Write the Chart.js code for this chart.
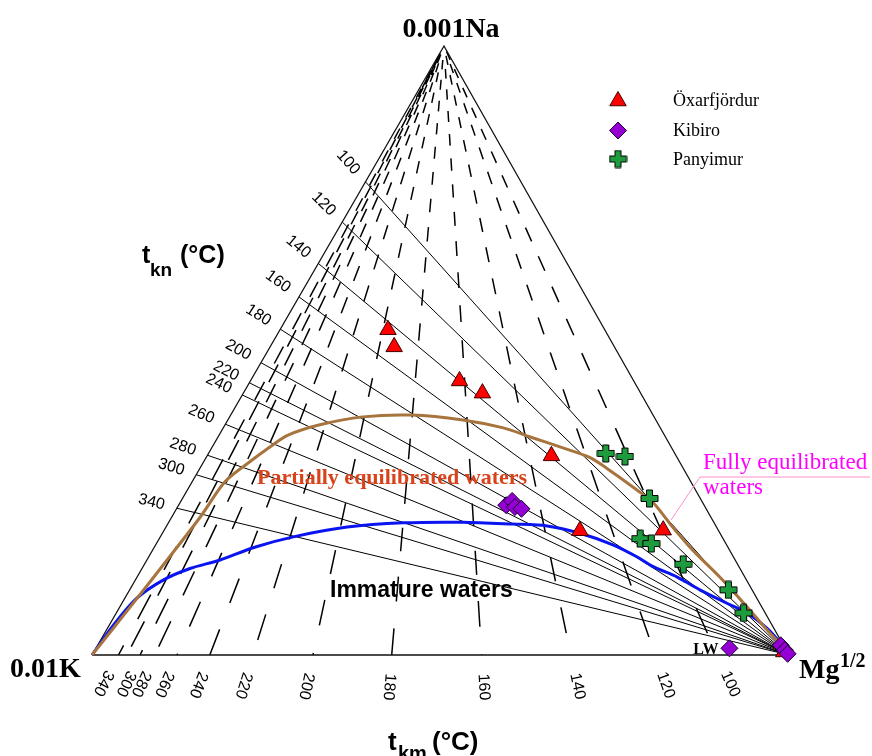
<!DOCTYPE html>
<html>
<head>
<meta charset="utf-8">
<script src="https://cdn.jsdelivr.net/npm/chart.js@4.4.0/dist/chart.umd.min.js"></script>
<style>
  html, body { margin: 0; padding: 0; background: #fff; }
  #wrap { width: 872px; height: 756px; }
</style>
</head>
<body>
<div id="wrap"><canvas id="giggenbach"></canvas></div>
<script>
'use strict';

// Compositions are % of (Na/1000, K/100, Mg^1/2); the K share is the rest

// Na-K geothermometer lines: % Na/1000 where each one meets the K-Na side
const tknTemps = ['100', '120', '140', '160', '180', '200', '220', '240', '260', '280', '300', '340'];
const tknNa = [77.7, 71.1, 64.3, 58.8, 53.5, 48.0, 44.7, 42.7, 37.9, 32.8, 29.6, 24.1];

// K-Mg geothermometer lines: % Mg^1/2 where each one meets the K-Mg side
const tkmTemps = ['100', '120', '140', '160', '180', '200', '220', '240', '260', '280', '300', '', '340'];
const tkmMg = [89.7, 80.8, 68.7, 55.9, 43.0, 31.7, 23.1, 16.9, 12.2, 9.0, 6.9, 5.0, 3.8];

// full equilibrium curve
const fullNa = [0, 7.9, 15.6, 22.7, 28.4, 31.4, 34.2, 36.1, 37.8, 39.1, 39.4, 38.6, 37.3, 35.8, 34.0, 32.4, 29.9, 27.1, 25.0, 21.0, 17.2, 12.8, 7.9, 4.1, 1.3, 0];
const fullMg = [0, 1.5, 2.9, 4.1, 4.7, 6.4, 8.3, 9.9, 13.6, 19.1, 26.0, 33.7, 40.2, 44.8, 50.4, 55.1, 59.7, 64.5, 67.9, 72.7, 77.5, 83.6, 90.0, 94.8, 98.5, 100];

// partial equilibrium / immature boundary
const partNa = [0, 4.9, 9.3, 12.3, 14.2, 15.6, 17.7, 19.4, 21.0, 21.7, 21.8, 21.5, 21.2, 20.0, 18.1, 16.1, 14.5, 12.8, 10.7, 8.5, 6.9, 4.4, 2.1, 0];
const partMg = [0, 0.6, 1.7, 4.0, 6.9, 10.5, 14.4, 19.1, 26.0, 33.7, 42.2, 49.5, 54.6, 59.9, 65.6, 70.1, 73.2, 77.5, 81.8, 86.8, 90.5, 94.6, 97.6, 100];

// samples
const oxNa = [53.4, 50.6, 45.0, 43.0, 32.7, 20.4, 20.5, 0.5];
const oxMg = [15.5, 17.8, 30.0, 34.3, 49.4, 59.7, 71.6, 99.0];
const kiNa = [24.6, 25.3, 24.3, 24.0, 1.1, 1.6, 0.8, 0.2];
const kiMg = [47.0, 47.5, 48.4, 49.5, 90.9, 98.0, 99.0, 99.7];
const kiLabels = ['', '', '', '', 'LW', '', '', ''];
const paNa = [33.1, 32.6, 25.7, 19.1, 18.3, 14.9, 10.7, 6.9];
const paMg = [57.0, 60.0, 67.0, 69.0, 71.0, 77.3, 85.9, 90.0];

const APEX = 0.505; // horizontal place of the Na corner between K and Mg

function tern(na, mg) {
    return { x: mg + APEX * na, y: na };
}
function zipTern(naArr, mgArr) {
    return naArr.map((na, i) => tern(na, mgArr[i]));
}

const SERIF = '"Liberation Serif", "Times New Roman", serif';
const SANS = '"Liberation Sans", Arial, sans-serif';
const GREEN = '#1E9B3C';
const PURPLE = '#9400D3';

// green plus marker with black outline
function makeCross(size, arm) {
    const c = document.createElement('canvas');
    c.width = size;
    c.height = size;
    const g = c.getContext('2d');
    const h = size / 2, a = arm / 2, e = h - 1;
    g.beginPath();
    g.moveTo(h - a, h - e); g.lineTo(h + a, h - e); g.lineTo(h + a, h - a); g.lineTo(h + e, h - a);
    g.lineTo(h + e, h + a); g.lineTo(h + a, h + a); g.lineTo(h + a, h + e); g.lineTo(h - a, h + e);
    g.lineTo(h - a, h + a); g.lineTo(h - e, h + a); g.lineTo(h - e, h - a); g.lineTo(h - a, h - a);
    g.closePath();
    g.fillStyle = GREEN;
    g.fill();
    g.lineWidth = 1;
    g.strokeStyle = '#000';
    g.stroke();
    return c;
}
const crossImg = makeCross(19, 6);

// dashes get longer away from the Na corner, as in the original
function dashLine(ctx, x0, y0, x1, y1, phase) {
    const len = Math.hypot(x1 - x0, y1 - y0);
    const ux = (x1 - x0) / len, uy = (y1 - y0) / len;
    let s = 6 + phase;
    while (s < len) {
        const dash = 9 + 0.03 * s;
        const gap = 10 + 0.032 * s;
        const e = Math.min(s + dash, len);
        ctx.moveTo(x0 + ux * s, y0 + uy * s);
        ctx.lineTo(x0 + ux * e, y0 + uy * e);
        s = e + gap;
    }
}

const ternaryDecor = {
    id: 'ternaryDecor',
    beforeDatasetsDraw(chart) {
        const { ctx, scales: { x, y } } = chart;
        const px = p => [x.getPixelForValue(p.x), y.getPixelForValue(p.y)];
        const [ax, ay] = px(tern(100, 0));
        ctx.save();
        ctx.strokeStyle = '#000';
        ctx.lineWidth = 1.5;
        ctx.beginPath();
        tkmMg.forEach((mg, i) => {
            const [bx, by] = px(tern(0, mg));
            dashLine(ctx, ax, ay, bx, by, (i * 13) % 22);
        });
        ctx.stroke();
        ctx.restore();
    },
    afterDraw(chart) {
        const { ctx, scales: { x, y } } = chart;
        const px = p => [x.getPixelForValue(p.x), y.getPixelForValue(p.y)];
        ctx.save();
        ctx.fillStyle = '#000';
        ctx.textAlign = 'center';
        ctx.textBaseline = 'middle';

        // tkn tick labels, along each line beyond the K-Na side
        ctx.font = '16px ' + SANS;
        const [mx, my] = px(tern(0, 100));
        tknNa.forEach((na, i) => {
            const [ex, ey] = px(tern(na, 0));
            const d = Math.hypot(ex - mx, ey - my);
            const ux = (ex - mx) / d, uy = (ey - my) / d;
            ctx.save();
            ctx.translate(ex + ux * 26, ey + uy * 26);
            ctx.rotate(Math.atan2(-uy, -ux));
            ctx.fillText(tknTemps[i], 0, 0);
            ctx.restore();
        });

        // tkm tick labels, below the K-Mg side
        const [ax, ay] = px(tern(100, 0));
        tkmMg.forEach((mg, i) => {
            if (!tkmTemps[i]) return;
            const [bx, by] = px(tern(0, mg));
            const d = Math.hypot(bx - ax, by - ay);
            const ux = (bx - ax) / d, uy = (by - ay) / d;
            ctx.save();
            ctx.translate(bx + ux * 32, by + uy * 32);
            ctx.rotate(Math.atan2(uy, ux));
            ctx.fillText(tkmTemps[i], 0, 0);
            ctx.restore();
        });

        // corner names
        ctx.textBaseline = 'alphabetic';
        ctx.font = 'bold 28px ' + SERIF;
        ctx.fillText('0.001Na', 451, 37);
        ctx.textAlign = 'left';
        ctx.fillText('0.01K', 10, 677);
        ctx.fillText('Mg', 799, 678);
        ctx.font = 'bold 20px ' + SERIF;
        ctx.fillText('1/2', 840, 667);

        // axis titles
        ctx.font = 'bold 25px ' + SANS;
        ctx.fillText('t', 142, 263);
        ctx.fillText('(°C)', 180, 263);
        ctx.font = 'bold 19px ' + SANS;
        ctx.fillText('kn', 150, 276);
        ctx.font = 'bold 26px ' + SANS;
        ctx.fillText('t', 388, 750);
        ctx.fillText('(°C)', 432, 750);
        ctx.font = 'bold 20px ' + SANS;
        ctx.fillText('km', 398, 760);

        // field names
        ctx.font = 'bold 22px ' + SERIF;
        ctx.fillStyle = '#D8431B';
        ctx.fillText('Partially equilibrated waters', 257, 484);
        ctx.font = 'bold 23px ' + SANS;
        ctx.fillStyle = '#000';
        ctx.fillText('Immature waters', 330, 597);

        ctx.strokeStyle = '#FF90C8';
        ctx.lineWidth = 1;
        ctx.beginPath();
        ctx.moveTo(671, 520);
        ctx.lineTo(700, 477);
        ctx.lineTo(870, 477);
        ctx.stroke();
        ctx.font = '23px ' + SERIF;
        ctx.fillStyle = '#FF00FF';
        ctx.fillText('Fully equilibrated', 703, 469);
        ctx.fillText('waters', 703, 494);

        // sample labels
        ctx.font = 'bold 16px ' + SERIF;
        ctx.fillStyle = '#000';
        ctx.textAlign = 'right';
        kiLabels.forEach((lab, i) => {
            if (!lab) return;
            const [lx, ly] = px(tern(kiNa[i], kiMg[i]));
            ctx.fillText(lab, lx - 11, ly + 6);
        });

        // legend
        ctx.textAlign = 'left';
        ctx.font = '18px ' + SERIF;
        const r = 9.5;
        ctx.beginPath();
        ctx.moveTo(618, 101 - r);
        ctx.lineTo(618 + 0.866 * r, 101 + 0.5 * r);
        ctx.lineTo(618 - 0.866 * r, 101 + 0.5 * r);
        ctx.closePath();
        ctx.fillStyle = '#FF0000';
        ctx.fill();
        ctx.strokeStyle = '#400000';
        ctx.stroke();
        ctx.beginPath();
        ctx.moveTo(618, 122);
        ctx.lineTo(626.5, 130.5);
        ctx.lineTo(618, 139);
        ctx.lineTo(609.5, 130.5);
        ctx.closePath();
        ctx.fillStyle = PURPLE;
        ctx.fill();
        ctx.strokeStyle = '#1A0030';
        ctx.stroke();
        ctx.drawImage(crossImg, 618 - 9.5, 159 - 9.5);
        ctx.fillStyle = '#000';
        ctx.fillText('Öxarfjördur', 673, 106);
        ctx.fillText('Kibiro', 673, 136);
        ctx.fillText('Panyimur', 673, 165);
        ctx.restore();
    }
};

const lineSet = (data, color, width) => ({
    data: data,
    showLine: true,
    borderColor: color,
    borderWidth: width,
    pointRadius: 0,
    fill: false,
    clip: false
});

const gridSets = tknNa.map(na => lineSet([tern(0, 100), tern(na, 0)], '#000', 1));

new Chart(document.getElementById('giggenbach'), {
    type: 'scatter',
    data: {
        datasets: [
            {
                label: 'Kibiro',
                data: zipTern(kiNa, kiMg),
                pointStyle: 'rectRot',
                pointRadius: 8.5,
                backgroundColor: PURPLE,
                borderColor: '#1A0030',
                borderWidth: 1,
                clip: false
            },
            {
                label: 'Panyimur',
                data: zipTern(paNa, paMg),
                pointStyle: crossImg,
                pointRadius: 9,
                clip: false
            },
            {
                label: 'Öxarfjördur',
                data: zipTern(oxNa, oxMg),
                pointStyle: 'triangle',
                pointRadius: 9.5,
                backgroundColor: '#FF0000',
                borderColor: '#400000',
                borderWidth: 1,
                clip: false
            },
            Object.assign(lineSet(zipTern(fullNa, fullMg), '#A8743E', 3), { tension: 0.3 }),
            Object.assign(lineSet(zipTern(partNa, partMg), '#0A14F0', 3), { tension: 0.3 }),
            lineSet([tern(0, 0), tern(0, 100), tern(100, 0), tern(0, 0)], '#111', 1.3),
            ...gridSets
        ]
    },
    options: {
        responsive: true,
        maintainAspectRatio: false,
        animation: false,
        layout: { padding: { left: 92, right: 83, top: 46, bottom: 101 } },
        scales: {
            x: { type: 'linear', min: 0, max: 100, display: false },
            y: { type: 'linear', min: 0, max: 100, display: false }
        },
        plugins: {
            legend: { display: false },
            tooltip: { enabled: false }
        }
    },
    plugins: [ternaryDecor]
});
</script>
</body>
</html>
